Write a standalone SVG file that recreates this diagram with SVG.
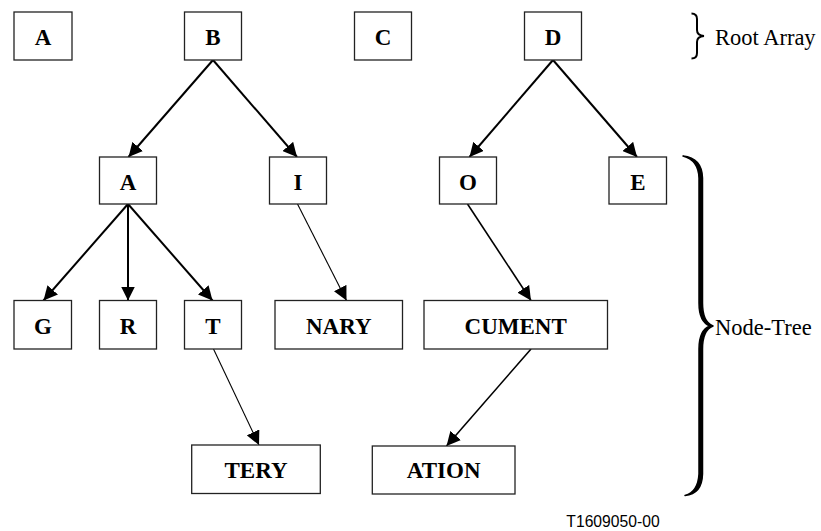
<svg xmlns="http://www.w3.org/2000/svg" width="821" height="531" viewBox="0 0 821 531">
<style>
.box{fill:#fff;stroke:#222;stroke-width:1.3}
.lbl{font-family:"Liberation Serif","Times New Roman",serif;font-weight:bold;font-size:23px;text-anchor:middle;fill:#000}
.note{font-family:"Liberation Serif","Times New Roman",serif;font-size:22.5px;fill:#000}
.foot{font-family:"Liberation Sans",Arial,sans-serif;font-size:15.7px;text-anchor:middle;fill:#000}
.c1{stroke:#000;stroke-width:2;fill:none;marker-end:url(#ah)}
.c2{stroke:#000;stroke-width:1.6;fill:none;marker-end:url(#ah)}
.c3{stroke:#000;stroke-width:1.1;fill:none;marker-end:url(#ah)}
.br{fill:none;stroke:#000;stroke-linecap:butt}
</style>
<defs>
<marker id="ah" markerUnits="userSpaceOnUse" markerWidth="15" markerHeight="14" refX="14" refY="7" orient="auto">
<path d="M0,0 L14,7 L0,14 z" fill="#000"/>
</marker>
</defs>
<g id="connectors">
<line class="c1" x1="213" y1="60" x2="128.5" y2="157"/>
<line class="c1" x1="213" y1="60" x2="297" y2="157"/>
<line class="c1" x1="553" y1="60" x2="469.5" y2="157"/>
<line class="c1" x1="553" y1="60" x2="637" y2="157"/>
<line class="c1" x1="128" y1="204" x2="43.5" y2="300.5"/>
<line class="c1" x1="128" y1="204" x2="128" y2="300.5"/>
<line class="c1" x1="128" y1="204" x2="212.5" y2="300.5"/>
<line class="c3" x1="297.5" y1="204" x2="346.5" y2="300.5"/>
<line class="c3" x1="213.5" y1="349" x2="259" y2="445"/>
<line class="c2" x1="467.5" y1="204" x2="531" y2="300.5"/>
<line class="c2" x1="531" y1="349" x2="446.5" y2="446"/>
</g>
<g id="root-A"><rect class="box" x="14" y="12" width="58" height="48"/><text class="lbl" x="43" y="44.5">A</text></g>
<g id="root-B"><rect class="box" x="184.5" y="12" width="57" height="48"/><text class="lbl" x="213" y="44.5">B</text></g>
<g id="root-C"><rect class="box" x="354.5" y="12" width="57" height="48"/><text class="lbl" x="383" y="44.5">C</text></g>
<g id="root-D"><rect class="box" x="524.5" y="12" width="57" height="48"/><text class="lbl" x="553" y="44.5">D</text></g>
<g id="node-A"><rect class="box" x="99.5" y="157" width="57" height="47"/><text class="lbl" x="128" y="190">A</text></g>
<g id="node-I"><rect class="box" x="269.5" y="157" width="57" height="47"/><text class="lbl" x="298" y="190">I</text></g>
<g id="node-O"><rect class="box" x="439.5" y="157" width="57" height="47"/><text class="lbl" x="468" y="190">O</text></g>
<g id="node-E"><rect class="box" x="609" y="157" width="57.5" height="47"/><text class="lbl" x="638" y="190">E</text></g>
<g id="node-G"><rect class="box" x="14" y="300.5" width="57.5" height="48.5"/><text class="lbl" x="43" y="333.5">G</text></g>
<g id="node-R"><rect class="box" x="99.5" y="300.5" width="57" height="48.5"/><text class="lbl" x="128" y="333.5">R</text></g>
<g id="node-T"><rect class="box" x="184.5" y="300.5" width="57" height="48.5"/><text class="lbl" x="213" y="333.5">T</text></g>
<g id="node-NARY"><rect class="box" x="275" y="300.5" width="127.5" height="48.5"/><text class="lbl" x="338.8" y="333.5">NARY</text></g>
<g id="node-CUMENT"><rect class="box" x="424" y="300.5" width="183.5" height="48.5"/><text class="lbl" x="515.7" y="333.5">CUMENT</text></g>
<g id="node-TERY"><rect class="box" x="191.7" y="445" width="128.6" height="48.5"/><text class="lbl" x="256" y="477.5">TERY</text></g>
<g id="node-ATION"><rect class="box" x="372.3" y="446" width="142.7" height="48"/><text class="lbl" x="443.7" y="478">ATION</text></g>
<g id="brace-root">
<path class="br" stroke-width="2" d="M691.5,13.5 Q697,13.5 697,19 L697,30 Q697,35.5 704,36 Q697,36.5 697,42 L697,53 Q697,58.5 691.5,58.5"/>
<text class="note" x="715" y="45">Root Array</text>
</g>
<g id="brace-tree">
<path d="M683,156 Q702,158 702.5,178 L702.5,303 Q702.5,322 713,326 Q702.5,330 702.5,349 L702.5,474 Q702,494 685,495.5 Q698,492 699,474 L699,349 Q699,330 710,326 Q699,322 699,303 L699,178 Q698.5,160 683,156 z" fill="#000" stroke="#000" stroke-width="1.5" stroke-linejoin="round"/>
<text class="note" x="715" y="335">Node-Tree</text>
</g>
<text class="foot" x="613" y="527">T1609050-00</text>
</svg>
